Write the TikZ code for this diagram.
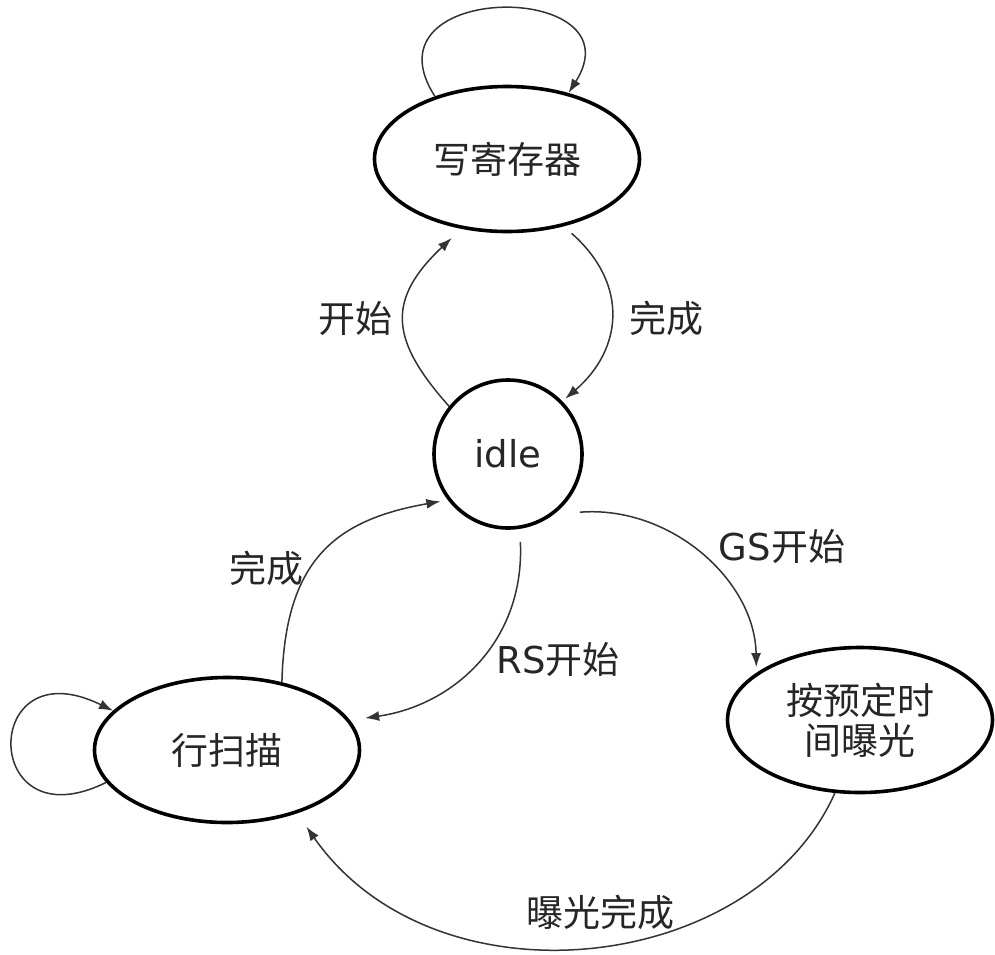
\documentclass[tikz,border=0pt]{standalone}
\usepackage{fontspec}
\setmainfont{DejaVu Sans}
\newfontfamily\cjk{Noto Sans CJK SC}
\usetikzlibrary{arrows.meta,shapes.geometric,calc}

\begin{document}
\begin{tikzpicture}[x=1pt,y=-1pt,
  state/.style={draw=black, line width=3.6pt, ellipse, minimum width=265pt, minimum height=145pt, inner sep=0pt, font=\fontsize{37}{40}\selectfont\cjk, text=black!85, align=center},
  idlestate/.style={draw=black, line width=3.6pt, circle, minimum size=148pt, inner sep=0pt, font=\fontsize{37}{40}\selectfont, text=black!85},
  trans/.style={draw=black!80, line width=1.5pt, -{Latex[length=14pt,width=10pt]}},
  lbl/.style={font=\fontsize{37}{40}\selectfont, text=black!85, inner sep=0pt}
]
\fill[white] (0,0) rectangle (995,954);
\useasboundingbox (0,0) rectangle (995,954);

% states
\node[state] (reg) at (507,159) {写寄存器};
\node[idlestate] (idle) at (508,454) {idle};
\node[state] (scan) at (227,750) {行扫描};
\node[state] (expo) at (860,720) {按预定时\\间曝光};

% transitions
\draw[trans] (reg.139) .. controls (360,-20) and (640,-20) .. (reg.47);
\draw[trans] (idle.141) .. controls (390,340) and (386,300) .. ($(reg.center)!1.14!(reg.-125)$);
\draw[trans] ($(reg.center)!1.11!(reg.-49)$) .. controls (630,285) and (622,350) .. ($(idle.center)!1.05!(idle.44)$);
\draw[trans] (scan.51) .. controls (285,560) and (335,520) .. ($(idle.center)!1.09!(idle.-145)$);
\draw[trans] ($(idle.center)!1.17!(idle.-82)$) .. controls (525,640) and (455,705) .. ($(scan.center)!1.115!(scan.13)$);
\draw[trans] ($(idle.center)!1.22!(idle.-39)$) .. controls (670,505) and (755,580) .. ($(expo.center)!1.05!(expo.153)$);
\draw[trans] (expo.-109) .. controls (754,975) and (435,1011) .. ($(scan.center)!1.19!(scan.-44)$);
\draw[trans] (scan.-165) .. controls (-20,845) and (-20,645) .. (scan.161);

% labels
\node[lbl] (l1) at (355,318) {\cjk 开始};
\node[lbl] (l2) at (666,318) {\cjk 完成};
\node[lbl] (l3) at (266,568) {\cjk 完成};
\node[lbl] (l4) at (558,659) {RS{\cjk 开始}};
\node[lbl] (l5) at (782,546) {GS{\cjk 开始}};
\node[lbl] (l6) at (600,912) {\cjk 曝光完成};
\end{tikzpicture}
\end{document}
